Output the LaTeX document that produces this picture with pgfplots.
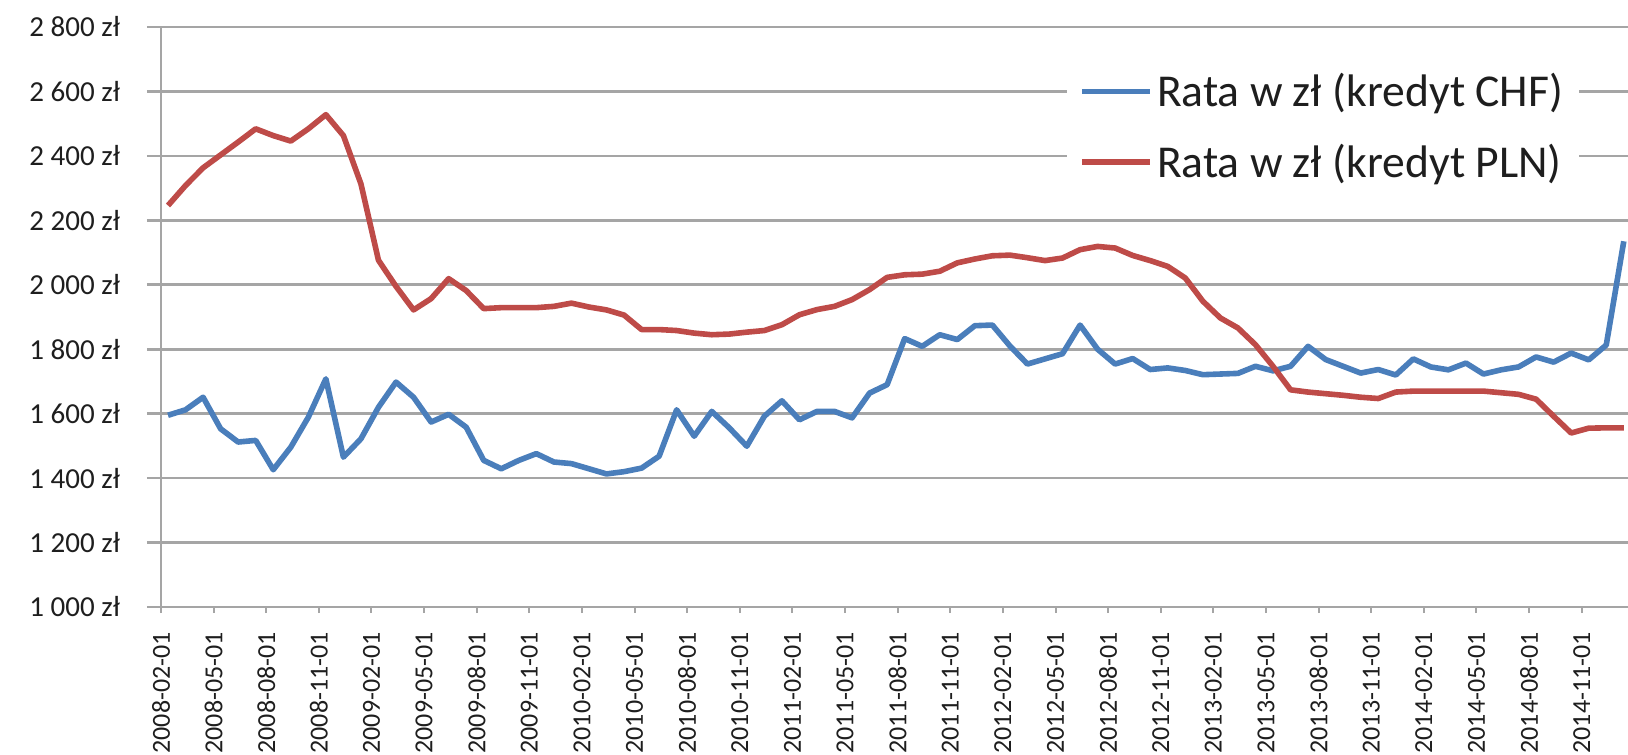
\documentclass[border=0pt]{standalone}
\usepackage{pgfplots}
\usepackage{pgfplotstable}
\pgfplotsset{compat=1.18}
\usepackage{fontspec}
\setmainfont{Carlito}
\definecolor{chfblue}{RGB}{74,126,187}
\definecolor{plnred}{RGB}{190,75,72}
\definecolor{gridgray}{RGB}{165,165,165}
\definecolor{txt}{RGB}{30,30,30}
\pgfplotstableread{
i chf pln
0 1595 2246
1 1612 2308
2 1651 2363
3 1553 2403
4 1512 2443
5 1517 2484
6 1426 2463
7 1496 2446
8 1589 2484
9 1708 2528
10 1465 2463
11 1522 2313
12 1620 2076
13 1698 1995
14 1651 1922
15 1574 1957
16 1598 2019
17 1558 1982
18 1455 1926
19 1429 1929
20 1455 1929
21 1476 1929
22 1450 1933
23 1445 1943
24 1429 1931
25 1413 1922
26 1420 1906
27 1431 1861
28 1468 1861
29 1612 1858
30 1530 1850
31 1607 1845
32 1556 1847
33 1499 1853
34 1592 1858
35 1640 1876
36 1581 1907
37 1607 1923
38 1607 1933
39 1587 1954
40 1664 1985
41 1690 2023
42 1833 2031
43 1809 2033
44 1845 2042
45 1830 2068
46 1873 2080
47 1875 2090
48 1810 2092
49 1754 2084
50 1770 2075
51 1786 2083
52 1875 2109
53 1800 2119
54 1754 2114
55 1771 2091
56 1737 2075
57 1742 2057
58 1734 2021
59 1721 1949
60 1723 1897
61 1725 1866
62 1747 1814
63 1733 1747
64 1747 1674
65 1809 1667
66 1768 1662
67 1747 1657
68 1726 1651
69 1737 1647
70 1720 1667
71 1770 1670
72 1745 1670
73 1736 1670
74 1757 1670
75 1723 1670
76 1736 1665
77 1745 1660
78 1776 1645
79 1760 1592
80 1788 1540
81 1767 1555
82 1813 1556
83 2135 1556
}\datatable
\begin{document}
\begin{tikzpicture}
\begin{axis}[
  width=733.5pt, height=290pt, scale only axis,
  xmin=0, xmax=83.64, ymin=1000, ymax=2800,
  axis x line*=bottom, axis y line*=left,
  axis line style={draw=gridgray, line width=1.3pt, -},
  ytick={1000,1200,...,2800},
  yticklabels={1 000 zł,1 200 zł,1 400 zł,1 600 zł,1 800 zł,2 000 zł,2 200 zł,2 400 zł,2 600 zł,2 800 zł},
  ymajorgrids, grid style={draw=gridgray, line width=1.3pt},
  xtick={0,3,...,81},
  xticklabels={2008-02-01,2008-05-01,2008-08-01,2008-11-01,2009-02-01,2009-05-01,2009-08-01,2009-11-01,2010-02-01,2010-05-01,2010-08-01,2010-11-01,2011-02-01,2011-05-01,2011-08-01,2011-11-01,2012-02-01,2012-05-01,2012-08-01,2012-11-01,2013-02-01,2013-05-01,2013-08-01,2013-11-01,2014-02-01,2014-05-01,2014-08-01,2014-11-01},
  tick align=outside,
  major tick length=7pt,
  tick style={draw=gridgray, line width=1.3pt},
  xtick style={/pgfplots/major tick length=3pt, line width=1pt},
  yticklabel style={font=\fontsize{14.5}{16}\selectfont, text=txt, anchor=east, xshift=-10pt},
  xticklabel style={font=\fontsize{13}{14}\selectfont, text=txt, rotate=90, anchor=east, xshift=-2pt},
  legend style={at={(0.6176,0.955)}, anchor=north west, draw=none, fill=white,
    font=\fontsize{22.8}{26}\selectfont, text=txt, inner xsep=6pt, inner ysep=8pt,
    row sep=13pt, cells={anchor=west}},
  legend image code/.code={\draw[#1, line width=2.8pt] (0pt,0pt) -- (34pt,0pt);},
]
\addplot[chfblue, line width=2.8pt, line join=round] table[x expr=\thisrow{i}+0.4, y=chf] {\datatable};
\addlegendentry{Rata w zł (kredyt CHF)}
\addplot[plnred, line width=2.8pt, line join=round] table[x expr=\thisrow{i}+0.4, y=pln] {\datatable};
\addlegendentry{Rata w zł (kredyt PLN)}
\end{axis}
\pgfresetboundingbox
\path[use as bounding box] (-80.5pt,-74pt) rectangle (733.5pt,303.5pt);
\end{tikzpicture}
\end{document}
